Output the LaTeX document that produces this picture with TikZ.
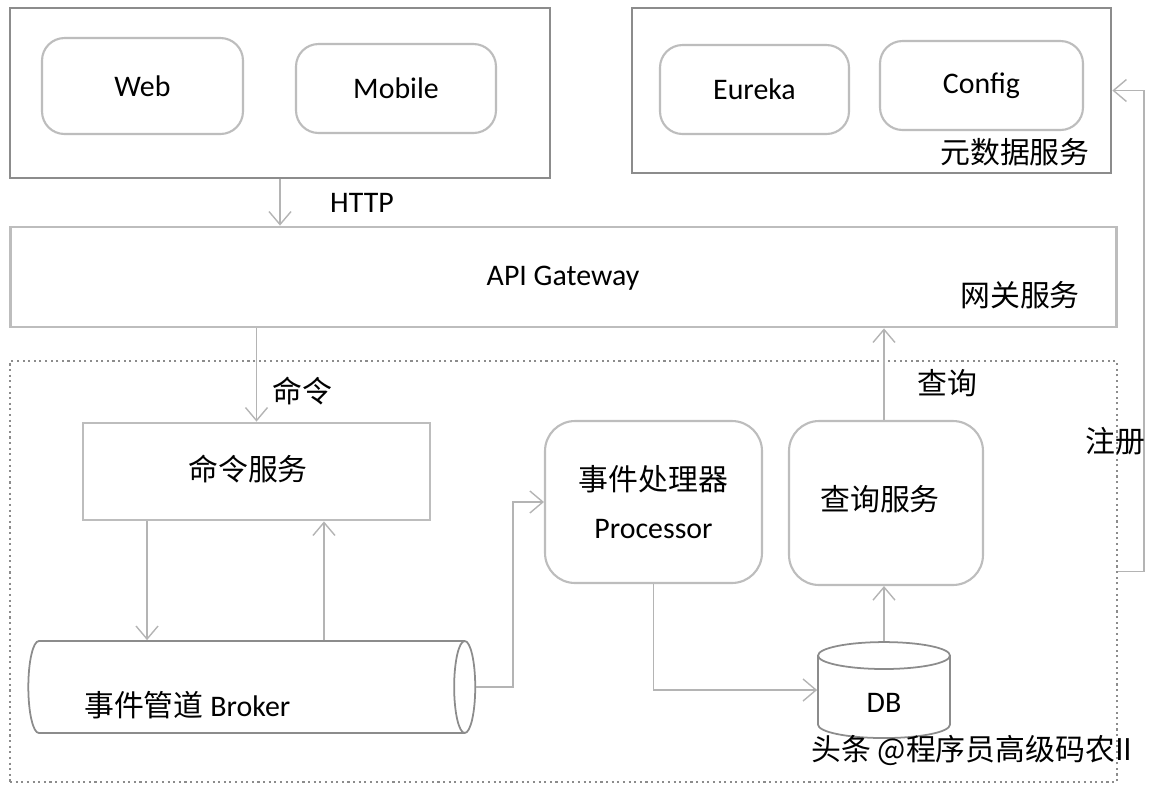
\documentclass[tikz,border=0pt]{standalone}
\usepackage{fontspec}
\setmainfont{Carlito}
\newfontfamily\cjk{Noto Sans CJK SC}
\usetikzlibrary{shapes.geometric,arrows.meta}
\definecolor{boxgray}{HTML}{8C8C8C}
\definecolor{softgray}{HTML}{BDBDBD}
\definecolor{linegray}{HTML}{B4B4B4}
\begin{document}
\begin{tikzpicture}[x=0.02cm,y=-0.02cm]
			\tikzstyle{every node}+=[font=\fontsize{17pt}{20pt}\selectfont]
			\tikzstyle{outerbox}=[draw=boxgray,line width=1.6pt,fill=white]
			\tikzstyle{svcbox}=[draw=softgray,line width=1.2pt,rounded corners=0.45cm,fill=white]
			\tikzstyle{arr}=[draw=linegray,line width=0.8pt,-{Straight Barb[length=2.6mm,width=4.4mm]}]
			\useasboundingbox (0,0) rectangle (1153,789);
			% business region
			\node [draw=boxgray,dotted,line width=1.2pt,minimum width=22.14cm,minimum height=8.42cm] (region) at (563.5,571.5) {};
			% clients
			\node [outerbox,minimum width=10.8cm,minimum height=3.4cm] (client) at (280,93) {};
			\node [svcbox,minimum width=4.02cm,minimum height=1.92cm] (web) at (142.5,86) {Web};
			\node [svcbox,minimum width=4.0cm,minimum height=1.78cm] (mobile) at (396,88.5) {Mobile};
			% metadata
			\node [outerbox,minimum width=9.58cm,minimum height=3.3cm] (meta) at (871.5,90.5) {};
			\node [svcbox,minimum width=3.78cm,minimum height=1.78cm] (eureka) at (754.5,89.5) {Eureka};
			\node [svcbox,minimum width=4.06cm,minimum height=1.78cm] (config) at (981.5,85.5) {Config};
			\node (metalbl) at (1015,152) {\cjk 元数据服务};
			% gateway
			\node [draw=softgray,line width=1.6pt,minimum width=22.14cm,minimum height=2.0cm] (gateway) at (563.5,277) {};
			\node (gwtext) at (563,278) {API Gateway};
			\node (gwlbl) at (1020,295) {\cjk 网关服务};
			% services
			\node [draw=softgray,line width=1.6pt,minimum width=6.94cm,minimum height=1.94cm,fill=white] (cmd) at (256.5,471.5) {};
			\node (cmdtext) at (248,469) {\cjk 命令服务};
			\node [svcbox,rounded corners=0.6cm,minimum width=4.34cm,minimum height=3.24cm,align=center] (proc) at (653.5,502) {{\cjk 事件处理器}\\[7pt]Processor};
			\node [svcbox,rounded corners=0.6cm,minimum width=3.88cm,minimum height=3.28cm] (query) at (886,503) {};
			\node (querytext) at (880,499) {\cjk 查询服务};
			\node [cylinder,draw=boxgray,line width=1pt,fill=white,aspect=1.8,minimum width=1.84cm,minimum height=8.94cm] (broker) at (243.5,687) {};
			\node [anchor=west] (brokertext) at (78,705) {{\cjk 事件管道} Broker};
			\node [cylinder,shape border rotate=90,draw=boxgray,line width=1pt,fill=white,aspect=2.3,minimum width=2.64cm,minimum height=1.92cm] (db) at (884,700) {};
			\node (dbtext) at (884,703) {DB};
			% connectors
			\draw [arr] (client.south) -- (client.south |- gateway.north);
			\node (http) at (362,203) {HTTP};
			\draw [arr] (cmd.north |- gateway.south) -- (cmd.north);
			\node (cmdlbl) at (302,391) {\cjk 命令};
			\draw [arr] ([xshift=-2.19cm]cmd.south) -- ([xshift=-2.19cm]cmd.south |- broker.north);
			\draw [arr] ([xshift=1.35cm]cmd.south |- broker.north) -- ([xshift=1.35cm]cmd.south);
			\draw [arr] (broker.east) -- ++(37,0) |- (proc.west);
			\draw [arr] (proc.south) |- ([yshift=0.2cm]db.west);
			\draw [arr] (db.north) -- (db.north |- query.south);
			\draw [arr] (db.north |- query.north) -- (db.north |- gateway.south);
			\node (querylbl) at (947,383) {\cjk 查询};
			\draw [arr] (region.east) -- ++(26,0) |- (meta.east);
			\node (reglbl) at (1115,441) {\cjk 注册};
			\node (mark) at (972,750) {\cjk 头条 @程序员高级码农II};
		\end{tikzpicture}
\end{document}
